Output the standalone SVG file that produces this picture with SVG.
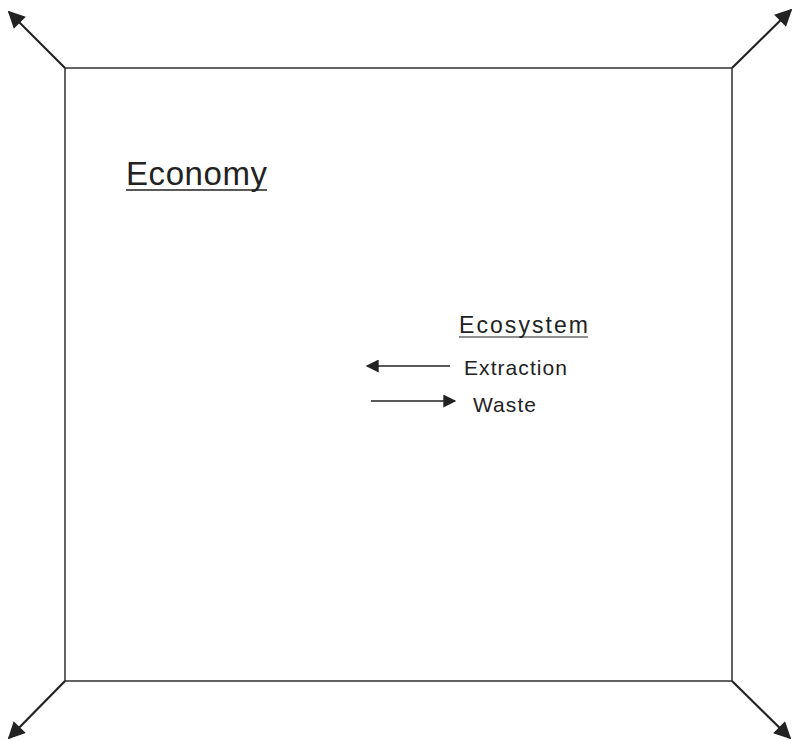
<svg xmlns="http://www.w3.org/2000/svg" width="793" height="740" viewBox="0 0 793 740">
<style>
.ln{stroke:#222;stroke-width:1.4;fill:none}
.ar{stroke:#222;stroke-width:2.2;fill:none}
.t{font-family:"Liberation Sans",Arial,sans-serif;fill:#222}
</style>
<defs>
<marker id="ahs" viewBox="0 0 10 10" refX="9" refY="5" markerWidth="18" markerHeight="13" markerUnits="userSpaceOnUse" orient="auto">
<path d="M0,0 L10,5 L0,10 Z" fill="#222"/>
</marker>
<marker id="ahb" viewBox="0 0 10 10" refX="9" refY="5" markerWidth="22" markerHeight="17" markerUnits="userSpaceOnUse" orient="auto">
<path d="M0,0 L10,5 L0,10 Z" fill="#222"/>
</marker>
</defs>
<g id="economy">
<rect x="65" y="68" width="667" height="613" class="ln"/>
<text class="t" x="126" y="185" font-size="33" textLength="141" lengthAdjust="spacing">Economy</text>
<line x1="126" y1="190" x2="267" y2="190" stroke="#222" stroke-width="1.5"/>
</g>
<g id="ecosystem">
<text class="t" x="459" y="333" font-size="23" textLength="129" lengthAdjust="spacing">Ecosystem</text>
<line x1="459" y1="337" x2="588" y2="337" stroke="#222" stroke-width="1.2"/>
</g>
<g id="legend">
<text class="t" x="464" y="375" font-size="21" textLength="103" lengthAdjust="spacing">Extraction</text>
<text class="t" x="473" y="412" font-size="21" textLength="63" lengthAdjust="spacing">Waste</text>
</g>
<g id="connectors">
<line x1="65" y1="68" x2="9" y2="12" class="ar" marker-end="url(#ahb)"/>
<line x1="732" y1="68" x2="791" y2="10" class="ar" marker-end="url(#ahb)"/>
<line x1="65" y1="681" x2="9" y2="738" class="ar" marker-end="url(#ahb)"/>
<line x1="732" y1="681" x2="790" y2="738" class="ar" marker-end="url(#ahb)"/>
<line x1="450" y1="366" x2="367" y2="366" class="ln" marker-end="url(#ahs)"/>
<line x1="371" y1="401" x2="455" y2="401" class="ln" marker-end="url(#ahs)"/>
</g>
</svg>
